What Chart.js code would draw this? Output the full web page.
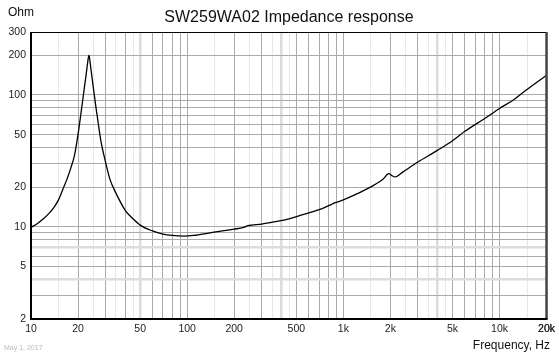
<!DOCTYPE html>
<html>
<head>
<meta charset="utf-8">
<script src="https://cdn.jsdelivr.net/npm/chart.js@4/dist/chart.umd.min.js"></script>
<style>
html,body{margin:0;padding:0;background:#fff;}
canvas{display:block;}
</style>
</head>
<body>
<canvas id="c" width="559" height="356"></canvas>
<script>
const chartTitle = 'SW259WA02 Impedance response';
const yAxisTitle = 'Ohm';
const xAxisTitle = 'Frequency, Hz';
const dateNote = 'May 1, 2017';

const freqHz = [10,11,12,13,14,15,16,17,18,19,20,21,22,22.5,23,23.5,24,24.5,25,26,27,28,30,32,35,40,45,50,60,70,80,95,110,140,200,230,245,260,300,360,450,530,700,850,870,900,1000,1200,1500,1800,1950,2050,2150,2400,3000,4000,5000,6000,8000,10000,12000,15000,20000];
const impedanceOhm = [9.9,10.6,11.5,12.6,14.0,16.0,19.3,23,28,35,50,76,115,140,172,200,170,140,116,82,60,45,31,23,18,13.4,11.5,10.3,9.3,8.8,8.6,8.5,8.6,9.0,9.6,9.9,10.2,10.3,10.5,10.9,11.5,12.2,13.5,14.9,15.1,15.3,16.0,17.6,20.1,23,25.3,24.4,23.9,26,31,38,45,53,66,79,90,110,141];

const xTickValues = [10,20,50,100,200,500,1000,2000,5000,10000,20000];
const xTickLabels = ['10','20','50','100','200','500','1k','2k','5k','10k','20k'];
const yTickValues = [2,5,10,20,50,100,200,300];
const yTickLabels = ['2','5','10','20','50','100','200','300'];

// grid line positions
const xDarkMult = [1,2,3,4,5,6,7,8,9];
const xLightMult = [1.5,2.5,3.5,4.5];
const xGrid = [], xLight = new Set();
[10,100,1000,10000].forEach(d=>{
  xDarkMult.forEach(m=>{const v=m*d; if(v<=20000) xGrid.push(v);});
  xLightMult.forEach(m=>{const v=m*d; if(v<=20000){xGrid.push(v); xLight.add(v);}});
});
xGrid.push(20000);
const xLightThick = new Set([50,400,4000]);

const yGrid = [], yLight = new Set([4,7]);
[1,10,100].forEach(d=>{
  [1,2,3,4,5,6,7,8,9].forEach(m=>{const v=m*d; if(v>=2 && v<=300) yGrid.push(v);});
});

const points = freqHz.map((f,i)=>({x:f,y:impedanceOhm[i]}));

const framePlugin = {
  id:'frame',
  afterDraw(chart){
    const {ctx, chartArea:a} = chart;
    ctx.save();
    ctx.strokeStyle='#000'; ctx.lineWidth=1;
    ctx.beginPath(); ctx.moveTo(a.left, a.top+0.5); ctx.lineTo(a.right, a.top+0.5); ctx.stroke();
    ctx.strokeStyle='#444'; ctx.lineWidth=2.5;
    ctx.beginPath(); ctx.moveTo(a.right, a.top); ctx.lineTo(a.right, a.bottom); ctx.stroke();
    ctx.strokeStyle='#000'; ctx.lineWidth=2;
    ctx.beginPath(); ctx.moveTo(a.left, a.top); ctx.lineTo(a.left, a.bottom); ctx.lineTo(a.right+1, a.bottom); ctx.stroke();
    ctx.fillStyle='#111';
    ctx.font='16px "Liberation Sans", Arial, sans-serif';
    ctx.textAlign='center'; ctx.textBaseline='middle';
    ctx.fillText(chartTitle, 289, 18);
    ctx.font='12px "Liberation Sans", Arial, sans-serif';
    ctx.textAlign='left';
    ctx.fillText(yAxisTitle, 8, 13);
    ctx.textAlign='right';
    ctx.fillText(xAxisTitle, 550, 346);
    ctx.fillStyle='#bbb';
    ctx.font='7px "Liberation Sans", Arial, sans-serif';
    ctx.textAlign='left';
    ctx.fillText(dateNote, 4, 348);
    ctx.restore();
  }
};

new Chart(document.getElementById('c'), {
  type:'line',
  data:{datasets:[{data:points, borderColor:'#000', borderWidth:1.3, pointRadius:0, fill:false, cubicInterpolationMode:'monotone'}]},
  options:{
    responsive:false, animation:false, devicePixelRatio:1,
    layout:{padding:{left:0,right:12,top:32,bottom:0}},
    plugins:{legend:{display:false}, tooltip:{enabled:false}, title:{display:false}},
    scales:{
      x:{
        type:'logarithmic', min:10, max:20000,
        afterBuildTicks(s){ s.ticks = xGrid.map(v=>({value:v})); },
        afterFit(s){ s.height = 37; },
        border:{display:false},
        grid:{
          drawTicks:false,
          color:(c)=>{const v=c.tick&&c.tick.value; if(xLightThick.has(v)) return '#dcdcdc'; return xLight.has(v)?'#e8e8e8':'#aaaaaa';},
          lineWidth:(c)=>{const v=c.tick&&c.tick.value; return xLightThick.has(v)?2.5:1;}
        },
        ticks:{
          autoSkip:false, maxRotation:0, minRotation:0, padding:4,
          color:'#222', font:{family:'"Liberation Sans", Arial, sans-serif', size:10.5},
          callback:(val)=>{const i=xTickValues.indexOf(val); return i>=0?xTickLabels[i]:'';}
        }
      },
      y:{
        type:'logarithmic', min:2, max:300,
        afterBuildTicks(s){ s.ticks = yGrid.map(v=>({value:v})); },
        afterFit(s){ s.width = 31; },
        border:{display:false},
        grid:{
          drawTicks:false,
          color:(c)=>{const v=c.tick&&c.tick.value; return yLight.has(v)?'#dcdcdc':'#aaaaaa';},
          lineWidth:(c)=>{const v=c.tick&&c.tick.value; return yLight.has(v)?2.5:1;}
        },
        ticks:{
          autoSkip:false, padding:5,
          color:'#222', font:{family:'"Liberation Sans", Arial, sans-serif', size:10.5},
          callback:(val)=>{const i=yTickValues.indexOf(val); return i>=0?yTickLabels[i]:'';}
        }
      }
    }
  },
  plugins:[framePlugin]
});
</script>
</body>
</html>
